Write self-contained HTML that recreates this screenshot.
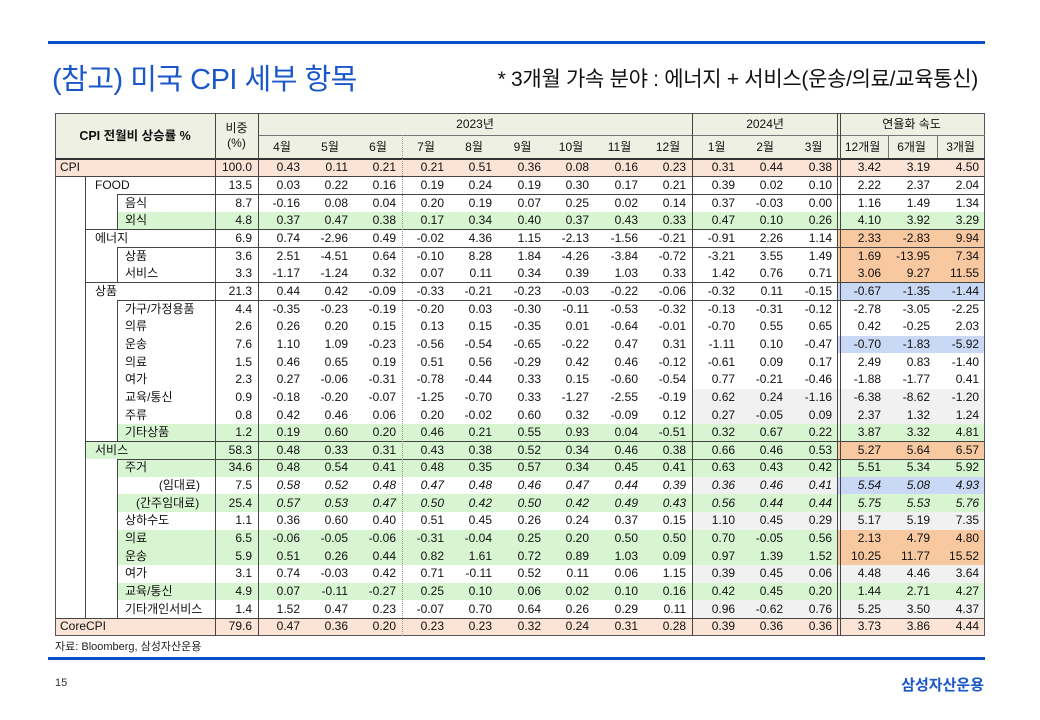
<!DOCTYPE html>
<html><head><meta charset="utf-8">
<style>
*{margin:0;padding:0;box-sizing:border-box}
body{width:1040px;height:720px;background:#fff;position:relative;overflow:hidden;font-family:"Liberation Sans","Noto Sans CJK KR",sans-serif;color:#111}
.ab{position:absolute}
table{position:absolute;left:55px;top:113px;width:930px;border-collapse:collapse;border-spacing:0;table-layout:fixed;font-size:12px}
td{padding:0 6px 0 0;text-align:right;white-space:nowrap;overflow:visible;line-height:17px}
tbody tr{height:17.667px}
thead td{background:#eef0e3;text-align:center;padding:0}
.l{text-align:left}
.p{background:#fbe3d5}.g{background:#d8f5d2}.o{background:#f8c8a0}.b{background:#c9d8f4}.y{background:#f1f1f1}
.i td{font-style:italic}
.i td.l,.i td.w{font-style:normal}
.hl{position:absolute;height:1px;background:#444}
.vl{position:absolute;width:1px;background:#444}
</style></head><body>
<div class="ab" style="left:48px;top:41px;width:937px;height:3px;background:#0b4fc8"></div>
<div class="ab" style="left:52px;top:56px;font-size:29px;color:#1a57c9;letter-spacing:-0.5px">(참고) 미국 CPI 세부 항목</div>
<div class="ab" style="right:62px;top:63px;font-size:21px;color:#111;letter-spacing:-0.3px">* 3개월 가속 분야 : 에너지 + 서비스(운송/의료/교육통신)</div>

<table>
<colgroup><col style="width:160px"><col style="width:43px">
<col style="width:48px"><col style="width:48px"><col style="width:48px"><col style="width:48px"><col style="width:48px"><col style="width:49px"><col style="width:48px"><col style="width:49px"><col style="width:48px">
<col style="width:49px"><col style="width:48px"><col style="width:49px">
<col style="width:49px"><col style="width:49px"><col style="width:49px"></colgroup>
<thead>
<tr style="height:22px"><td rowspan="2" style="font-weight:bold;font-size:12.5px">CPI 전월비 상승률 %</td><td rowspan="2" style="line-height:15px">비중<br>(%)</td><td colspan="9">2023년</td><td colspan="3">2024년</td><td colspan="3">연율화 속도</td></tr>
<tr style="height:24px"><td>4월</td><td>5월</td><td>6월</td><td>7월</td><td>8월</td><td>9월</td><td>10월</td><td>11월</td><td>12월</td><td>1월</td><td>2월</td><td>3월</td><td>12개월</td><td>6개월</td><td>3개월</td></tr>
</thead>
<tbody>
<tr class="p"><td class="l" style="padding-left:5px">CPI</td><td>100.0</td><td>0.43</td><td>0.11</td><td>0.21</td><td>0.21</td><td>0.51</td><td>0.36</td><td>0.08</td><td>0.16</td><td>0.23</td><td>0.31</td><td>0.44</td><td>0.38</td><td>3.42</td><td>3.19</td><td>4.50</td></tr>
<tr><td class="l" style="padding-left:40px">FOOD</td><td>13.5</td><td>0.03</td><td>0.22</td><td>0.16</td><td>0.19</td><td>0.24</td><td>0.19</td><td>0.30</td><td>0.17</td><td>0.21</td><td>0.39</td><td>0.02</td><td>0.10</td><td>2.22</td><td>2.37</td><td>2.04</td></tr>
<tr><td class="l" style="padding-left:70px">음식</td><td>8.7</td><td>-0.16</td><td>0.08</td><td>0.04</td><td>0.20</td><td>0.19</td><td>0.07</td><td>0.25</td><td>0.02</td><td>0.14</td><td>0.37</td><td>-0.03</td><td>0.00</td><td>1.16</td><td>1.49</td><td>1.34</td></tr>
<tr class="g"><td class="l" style="padding-left:70px;background:linear-gradient(to right,#fff 62px,#d8f5d2 62px)">외식</td><td>4.8</td><td>0.37</td><td>0.47</td><td>0.38</td><td>0.17</td><td>0.34</td><td>0.40</td><td>0.37</td><td>0.43</td><td>0.33</td><td>0.47</td><td>0.10</td><td>0.26</td><td>4.10</td><td>3.92</td><td>3.29</td></tr>
<tr><td class="l" style="padding-left:40px">에너지</td><td>6.9</td><td>0.74</td><td>-2.96</td><td>0.49</td><td>-0.02</td><td>4.36</td><td>1.15</td><td>-2.13</td><td>-1.56</td><td>-0.21</td><td>-0.91</td><td>2.26</td><td>1.14</td><td class="o">2.33</td><td class="o">-2.83</td><td class="o">9.94</td></tr>
<tr><td class="l" style="padding-left:70px">상품</td><td>3.6</td><td>2.51</td><td>-4.51</td><td>0.64</td><td>-0.10</td><td>8.28</td><td>1.84</td><td>-4.26</td><td>-3.84</td><td>-0.72</td><td>-3.21</td><td>3.55</td><td>1.49</td><td class="o">1.69</td><td class="o">-13.95</td><td class="o">7.34</td></tr>
<tr><td class="l" style="padding-left:70px">서비스</td><td>3.3</td><td>-1.17</td><td>-1.24</td><td>0.32</td><td>0.07</td><td>0.11</td><td>0.34</td><td>0.39</td><td>1.03</td><td>0.33</td><td>1.42</td><td>0.76</td><td>0.71</td><td class="o">3.06</td><td class="o">9.27</td><td class="o">11.55</td></tr>
<tr><td class="l" style="padding-left:40px">상품</td><td>21.3</td><td>0.44</td><td>0.42</td><td>-0.09</td><td>-0.33</td><td>-0.21</td><td>-0.23</td><td>-0.03</td><td>-0.22</td><td>-0.06</td><td>-0.32</td><td>0.11</td><td>-0.15</td><td class="b">-0.67</td><td class="b">-1.35</td><td class="b">-1.44</td></tr>
<tr><td class="l" style="padding-left:70px">가구/가정용품</td><td>4.4</td><td>-0.35</td><td>-0.23</td><td>-0.19</td><td>-0.20</td><td>0.03</td><td>-0.30</td><td>-0.11</td><td>-0.53</td><td>-0.32</td><td>-0.13</td><td>-0.31</td><td>-0.12</td><td>-2.78</td><td>-3.05</td><td>-2.25</td></tr>
<tr><td class="l" style="padding-left:70px">의류</td><td>2.6</td><td>0.26</td><td>0.20</td><td>0.15</td><td>0.13</td><td>0.15</td><td>-0.35</td><td>0.01</td><td>-0.64</td><td>-0.01</td><td>-0.70</td><td>0.55</td><td>0.65</td><td>0.42</td><td>-0.25</td><td>2.03</td></tr>
<tr><td class="l" style="padding-left:70px">운송</td><td>7.6</td><td>1.10</td><td>1.09</td><td>-0.23</td><td>-0.56</td><td>-0.54</td><td>-0.65</td><td>-0.22</td><td>0.47</td><td>0.31</td><td>-1.11</td><td>0.10</td><td>-0.47</td><td class="b">-0.70</td><td class="b">-1.83</td><td class="b">-5.92</td></tr>
<tr><td class="l" style="padding-left:70px">의료</td><td>1.5</td><td>0.46</td><td>0.65</td><td>0.19</td><td>0.51</td><td>0.56</td><td>-0.29</td><td>0.42</td><td>0.46</td><td>-0.12</td><td>-0.61</td><td>0.09</td><td>0.17</td><td>2.49</td><td>0.83</td><td>-1.40</td></tr>
<tr><td class="l" style="padding-left:70px">여가</td><td>2.3</td><td>0.27</td><td>-0.06</td><td>-0.31</td><td>-0.78</td><td>-0.44</td><td>0.33</td><td>0.15</td><td>-0.60</td><td>-0.54</td><td>0.77</td><td>-0.21</td><td>-0.46</td><td>-1.88</td><td>-1.77</td><td>0.41</td></tr>
<tr><td class="l" style="padding-left:70px">교육/통신</td><td>0.9</td><td>-0.18</td><td>-0.20</td><td>-0.07</td><td>-1.25</td><td>-0.70</td><td>0.33</td><td>-1.27</td><td>-2.55</td><td>-0.19</td><td class="y">0.62</td><td class="y">0.24</td><td class="y">-1.16</td><td class="y">-6.38</td><td class="y">-8.62</td><td class="y">-1.20</td></tr>
<tr><td class="l" style="padding-left:70px">주류</td><td>0.8</td><td>0.42</td><td>0.46</td><td>0.06</td><td>0.20</td><td>-0.02</td><td>0.60</td><td>0.32</td><td>-0.09</td><td>0.12</td><td class="y">0.27</td><td class="y">-0.05</td><td class="y">0.09</td><td class="y">2.37</td><td class="y">1.32</td><td class="y">1.24</td></tr>
<tr class="g"><td class="l" style="padding-left:70px;background:linear-gradient(to right,#fff 62px,#d8f5d2 62px)">기타상품</td><td>1.2</td><td>0.19</td><td>0.60</td><td>0.20</td><td>0.46</td><td>0.21</td><td>0.55</td><td>0.93</td><td>0.04</td><td>-0.51</td><td>0.32</td><td>0.67</td><td>0.22</td><td>3.87</td><td>3.32</td><td>4.81</td></tr>
<tr class="g"><td class="l" style="padding-left:40px;background:linear-gradient(to right,#fff 30px,#d8f5d2 30px)">서비스</td><td>58.3</td><td>0.48</td><td>0.33</td><td>0.31</td><td>0.43</td><td>0.38</td><td>0.52</td><td>0.34</td><td>0.46</td><td>0.38</td><td>0.66</td><td>0.46</td><td>0.53</td><td class="o">5.27</td><td class="o">5.64</td><td class="o">6.57</td></tr>
<tr class="g"><td class="l" style="padding-left:70px;background:linear-gradient(to right,#fff 62px,#d8f5d2 62px)">주거</td><td>34.6</td><td>0.48</td><td>0.54</td><td>0.41</td><td>0.48</td><td>0.35</td><td>0.57</td><td>0.34</td><td>0.45</td><td>0.41</td><td>0.63</td><td>0.43</td><td>0.42</td><td>5.51</td><td>5.34</td><td>5.92</td></tr>
<tr class="i"><td class="w" style="padding-right:15px">(임대료)</td><td class="w">7.5</td><td>0.58</td><td>0.52</td><td>0.48</td><td>0.47</td><td>0.48</td><td>0.46</td><td>0.47</td><td>0.44</td><td>0.39</td><td class="y">0.36</td><td class="y">0.46</td><td class="y">0.41</td><td class="b">5.54</td><td class="b">5.08</td><td class="b">4.93</td></tr>
<tr class="g i"><td class="l" style="padding-left:81px;background:linear-gradient(to right,#fff 62px,#d8f5d2 62px)">(간주임대료)</td><td class="w">25.4</td><td>0.57</td><td>0.53</td><td>0.47</td><td>0.50</td><td>0.42</td><td>0.50</td><td>0.42</td><td>0.49</td><td>0.43</td><td>0.56</td><td>0.44</td><td>0.44</td><td>5.75</td><td>5.53</td><td>5.76</td></tr>
<tr><td class="l" style="padding-left:70px">상하수도</td><td>1.1</td><td>0.36</td><td>0.60</td><td>0.40</td><td>0.51</td><td>0.45</td><td>0.26</td><td>0.24</td><td>0.37</td><td>0.15</td><td class="y">1.10</td><td class="y">0.45</td><td class="y">0.29</td><td class="y">5.17</td><td class="y">5.19</td><td class="y">7.35</td></tr>
<tr class="g"><td class="l" style="padding-left:70px;background:linear-gradient(to right,#fff 62px,#d8f5d2 62px)">의료</td><td>6.5</td><td>-0.06</td><td>-0.05</td><td>-0.06</td><td>-0.31</td><td>-0.04</td><td>0.25</td><td>0.20</td><td>0.50</td><td>0.50</td><td>0.70</td><td>-0.05</td><td>0.56</td><td class="o">2.13</td><td class="o">4.79</td><td class="o">4.80</td></tr>
<tr class="g"><td class="l" style="padding-left:70px;background:linear-gradient(to right,#fff 62px,#d8f5d2 62px)">운송</td><td>5.9</td><td>0.51</td><td>0.26</td><td>0.44</td><td>0.82</td><td>1.61</td><td>0.72</td><td>0.89</td><td>1.03</td><td>0.09</td><td>0.97</td><td>1.39</td><td>1.52</td><td class="o">10.25</td><td class="o">11.77</td><td class="o">15.52</td></tr>
<tr><td class="l" style="padding-left:70px">여가</td><td>3.1</td><td>0.74</td><td>-0.03</td><td>0.42</td><td>0.71</td><td>-0.11</td><td>0.52</td><td>0.11</td><td>0.06</td><td>1.15</td><td class="y">0.39</td><td class="y">0.45</td><td class="y">0.06</td><td class="y">4.48</td><td class="y">4.46</td><td class="y">3.64</td></tr>
<tr class="g"><td class="l" style="padding-left:70px;background:linear-gradient(to right,#fff 62px,#d8f5d2 62px)">교육/통신</td><td>4.9</td><td>0.07</td><td>-0.11</td><td>-0.27</td><td>0.25</td><td>0.10</td><td>0.06</td><td>0.02</td><td>0.10</td><td>0.16</td><td>0.42</td><td>0.45</td><td>0.20</td><td>1.44</td><td>2.71</td><td>4.27</td></tr>
<tr><td class="l" style="padding-left:70px">기타개인서비스</td><td>1.4</td><td>1.52</td><td>0.47</td><td>0.23</td><td>-0.07</td><td>0.70</td><td>0.64</td><td>0.26</td><td>0.29</td><td>0.11</td><td class="y">0.96</td><td class="y">-0.62</td><td class="y">0.76</td><td class="y">5.25</td><td class="y">3.50</td><td class="y">4.37</td></tr>
<tr class="p"><td class="l" style="padding-left:5px">CoreCPI</td><td>79.6</td><td>0.47</td><td>0.36</td><td>0.20</td><td>0.23</td><td>0.23</td><td>0.32</td><td>0.24</td><td>0.31</td><td>0.28</td><td>0.39</td><td>0.36</td><td>0.36</td><td>3.73</td><td>3.86</td><td>4.44</td></tr>
</tbody></table>

<div class="ab" style="left:55px;top:113px;width:930px;height:523px;border:1px solid #555"></div>
<div class="hl" style="left:258px;top:135px;width:727px;background:#777"></div>
<div class="hl" style="left:55px;top:158px;width:930px;height:2px;background:#333"></div>
<div class="hl" style="left:55px;top:176px;width:930px"></div>
<div class="hl" style="left:117px;top:194px;width:868px"></div>
<div class="hl" style="left:85px;top:229px;width:900px"></div>
<div class="hl" style="left:117px;top:247px;width:868px"></div>
<div class="hl" style="left:85px;top:282px;width:900px"></div>
<div class="hl" style="left:117px;top:300px;width:868px"></div>
<div class="hl" style="left:85px;top:441px;width:900px"></div>
<div class="hl" style="left:117px;top:459px;width:868px"></div>
<div class="hl" style="left:55px;top:618px;width:930px"></div>
<div class="vl" style="left:215px;top:113px;height:523px"></div>
<div class="vl" style="left:258px;top:113px;height:523px"></div>
<div class="vl" style="left:692px;top:113px;height:523px"></div>
<div class="vl" style="left:837px;top:113px;height:523px"></div>
<div class="vl" style="left:840px;top:113px;height:523px"></div>
<div class="ab" style="left:402px;top:135px;height:501px;border-left:1px dotted #999"></div>
<div class="vl" style="left:888px;top:135px;height:23px;background:#777"></div>
<div class="vl" style="left:937px;top:135px;height:23px;background:#777"></div>
<div class="vl" style="left:85px;top:176px;height:442px"></div>
<div class="vl" style="left:117px;top:194px;height:35px"></div>
<div class="vl" style="left:117px;top:247px;height:35px"></div>
<div class="vl" style="left:117px;top:300px;height:141px"></div>
<div class="vl" style="left:117px;top:459px;height:159px"></div>

<div class="ab" style="left:55px;top:638px;font-size:11px;color:#222">자료: Bloomberg, 삼성자산운용</div>
<div class="ab" style="left:48px;top:657px;width:937px;height:3px;background:#0b4fc8"></div>
<div class="ab" style="left:55px;top:677px;font-size:11px;color:#333">15</div>
<div class="ab" style="right:56px;top:674px;font-size:15px;font-weight:bold;color:#1a57c9">삼성자산운용</div>
</body></html>
